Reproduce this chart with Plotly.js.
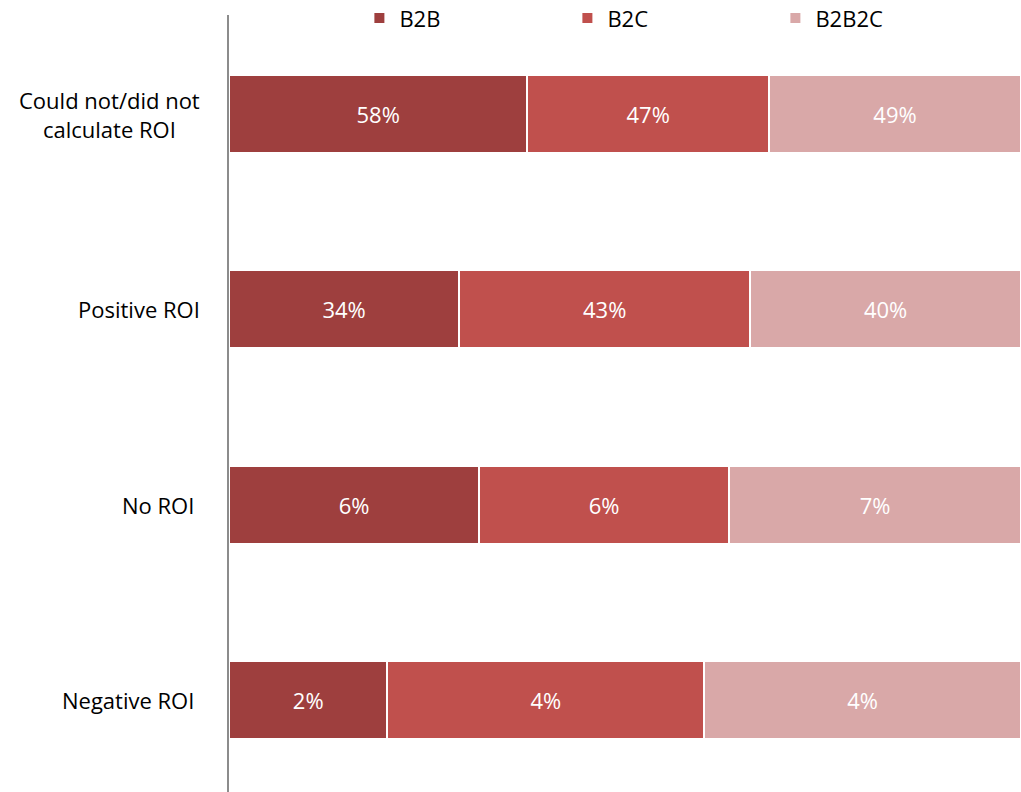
<!DOCTYPE html>
<html>
<head>
<meta charset="utf-8">
<script src="https://cdn.plot.ly/plotly-3.0.1.min.js"></script>
<style>html,body{margin:0;padding:0;background:#fff;}#chart{width:1021px;height:792px;}</style>
</head>
<body>
<div id="chart"></div>
<script>
// Data
const categories = ["Could not/did not calculate ROI", "Positive ROI", "No ROI", "Negative ROI"];
const categoryLabels = ["Could not/did not<br>calculate ROI", "Positive ROI", "No ROI\u00a0", "Negative ROI\u00a0"];
const seriesNames = ["B2B", "B2C", "B2B2C"];
const b2b = [58, 34, 6, 2];
const b2c = [47, 43, 6, 4];
const b2b2c = [49, 40, 7, 4];
const seriesValues = [b2b, b2c, b2b2c];
const colors = ["#9E3F3E", "#C0504D", "#D9A8A8"];

const font = "Open Sans, Liberation Sans, sans-serif";

const traces = seriesNames.map((name, i) => ({
  type: "bar",
  orientation: "h",
  name: name,
  y: categories,
  x: seriesValues[i],
  text: seriesValues[i].map(v => v + "%"),
  textposition: "inside",
  insidetextanchor: "middle",
  constraintext: "none",
  textfont: {family: font, size: 22, color: "#ffffff"},
  hoverinfo: "name+text",
  marker: {color: colors[i], line: {color: "#ffffff", width: 2}},
  width: 0.4
}));

const annotations = categories.map((c, i) => ({
  xref: "paper", yref: "y",
  x: -0.034, y: c,
  xanchor: "right", yanchor: "middle",
  text: categoryLabels[i],
  align: "center",
  showarrow: false,
  font: {family: font, size: 22, color: "#000000"}
}));

const layout = {
  width: 1021, height: 792,
  margin: {l: 229, r: 0, t: 15, b: 0, pad: 0, autoexpand: false},
  paper_bgcolor: "#ffffff",
  plot_bgcolor: "#ffffff",
  barmode: "stack",
  barnorm: "percent",
  showlegend: true,
  legend: {
    orientation: "h",
    xref: "container", yref: "container",
    x: 0.352, xanchor: "left",
    y: 0.977, yanchor: "middle",
    entrywidth: 163, entrywidthmode: "pixels",
    font: {family: font, size: 22, color: "#000000"},
    bgcolor: "rgba(0,0,0,0)",
    traceorder: "normal"
  },
  xaxis: {
    range: [0, 100],
    showgrid: false, zeroline: false, showticklabels: false,
    showline: false, fixedrange: true
  },
  yaxis: {
    type: "category",
    categoryorder: "array",
    categoryarray: categories.slice().reverse(),
    range: [-0.471, 3.507],
    showticklabels: false,
    showgrid: false, zeroline: false,
    showline: true, linecolor: "#8c8c8c", linewidth: 2,
    fixedrange: true
  },
  annotations: annotations
};

Plotly.newPlot("chart", traces, layout, {displayModeBar: false, staticPlot: true});
</script>
</body>
</html>
